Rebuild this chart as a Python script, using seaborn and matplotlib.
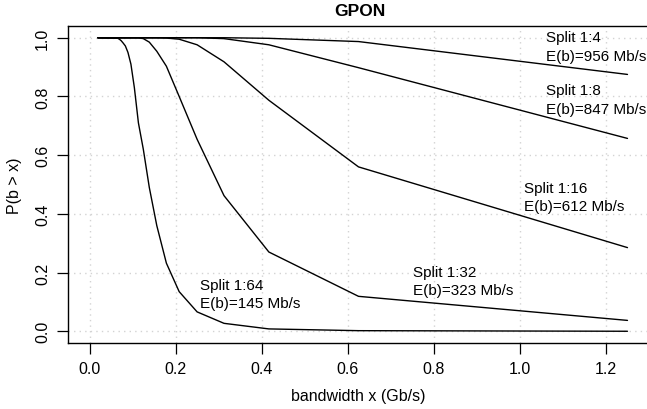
import matplotlib
matplotlib.use("Agg")
import matplotlib.pyplot as plt
import seaborn as sns
import pandas as pd

# ---- data ----
bandwidth = [0.0195, 0.0658, 0.0694, 0.0735, 0.0781, 0.0833, 0.0893, 0.0962,
             0.1042, 0.1136, 0.1250, 0.1389, 0.1563, 0.1786, 0.2083, 0.2500,
             0.3125, 0.4167, 0.6250, 1.2500]

split_64 = [1.0, 0.998, 0.995, 0.990, 0.982, 0.972, 0.950, 0.910, 0.830, 0.710,
            0.620, 0.490, 0.360, 0.232, 0.135, 0.066, 0.027, 0.008, 0.002, 0.0]
split_32 = [1.0, 1.0, 1.0, 1.0, 1.0, 1.0, 1.0, 1.0, 1.0, 1.0,
            0.997, 0.985, 0.954, 0.903, 0.800, 0.654, 0.462, 0.270, 0.119, 0.037]
split_16 = [1.0, 1.0, 1.0, 1.0, 1.0, 1.0, 1.0, 1.0, 1.0, 1.0,
            1.0, 1.0, 1.0, 0.999, 0.995, 0.976, 0.918, 0.787, 0.560, 0.285]
split_8 = [1.0, 1.0, 1.0, 1.0, 1.0, 1.0, 1.0, 1.0, 1.0, 1.0,
           1.0, 1.0, 1.0, 1.0, 1.0, 1.0, 0.997, 0.976, 0.898, 0.657]
split_4 = [1.0, 1.0, 1.0, 1.0, 1.0, 1.0, 1.0, 1.0, 1.0, 1.0,
           1.0, 1.0, 1.0, 1.0, 1.0, 1.0, 1.0, 0.998, 0.987, 0.875]

series_names = ["1:4", "1:8", "1:16", "1:32", "1:64"]
series_values = [split_4, split_8, split_16, split_32, split_64]

label_text = ["Split 1:4\nE(b)=956 Mb/s", "Split 1:8\nE(b)=847 Mb/s",
              "Split 1:16\nE(b)=612 Mb/s", "Split 1:32\nE(b)=323 Mb/s",
              "Split 1:64\nE(b)=145 Mb/s"]
label_x = [1.06, 1.06, 1.009, 0.751, 0.256]
label_y = [0.970, 0.790, 0.458, 0.171, 0.127]

x_ticks = [0.0, 0.2, 0.4, 0.6, 0.8, 1.0, 1.2]
y_ticks = [0.0, 0.2, 0.4, 0.6, 0.8, 1.0]

# ---- style ----
sns.set_style("white")
plt.rcParams["font.family"] = ["Liberation Sans", "DejaVu Sans"]
plt.rcParams["text.color"] = "black"

W, H = 647, 410
fig = plt.figure(figsize=(W / 100, H / 100), dpi=100)
ax = fig.add_axes([68 / W, 1 - 344 / H, (649 - 68) / W, (344 - 27) / H])

rows = []
for name, vals in zip(series_names, series_values):
    for xv, yv in zip(bandwidth, vals):
        rows.append({"x": xv, "p": yv, "split": name})
df = pd.DataFrame(rows)

sns.lineplot(data=df, x="x", y="p", units="split", estimator=None, sort=False,
             color="black", lw=1.0, ax=ax, legend=False)

for t, lx, ly in zip(label_text, label_x, label_y):
    ax.text(lx, ly, t, ha="left", va="center", fontsize=11, linespacing=1.4,
            color="black")

ax.set_xlim(-0.05, 1.30)
ax.set_ylim(-0.04, 1.04)
ax.set_xticks(x_ticks)
ax.set_yticks(y_ticks)
ax.set_xticklabels([f"{v:.1f}" for v in x_ticks])
ax.set_yticklabels([f"{v:.1f}" for v in y_ticks])

for v in x_ticks:
    ax.axvline(v, color="#d3d3d3", lw=1.0, ls=(0, (1, 3)), zorder=0)
for v in y_ticks:
    ax.axhline(v, color="#d3d3d3", lw=1.0, ls=(0, (1, 3)), zorder=0)

for s in ["left", "bottom", "top"]:
    ax.spines[s].set_visible(True)
    ax.spines[s].set_color("black")
    ax.spines[s].set_linewidth(1.0)
ax.spines["right"].set_visible(False)

ax.tick_params(axis="both", direction="out", length=8, width=0.9, color="black",
               labelsize=11.5, labelcolor="black", bottom=True, left=True)
ax.tick_params(axis="x", pad=5)
ax.tick_params(axis="y", pad=5)
for lab in ax.get_yticklabels():
    lab.set_rotation(90)
    lab.set_va("center")

ax.set_xlabel("")
ax.set_ylabel("")
fig.text(358 / W, 1 - 397 / H, "bandwidth x (Gb/s)", ha="center", va="center",
         fontsize=11.5, color="black")
fig.text(15 / W, 1 - 186 / H, "P(b > x)", ha="center", va="center",
         rotation=90, fontsize=11.5, color="black")
fig.text(360 / W, 1 - 12 / H, "GPON", ha="center", va="center",
         fontsize=12.5, fontweight="bold", color="black")

fig.savefig("out.png", dpi=100)
